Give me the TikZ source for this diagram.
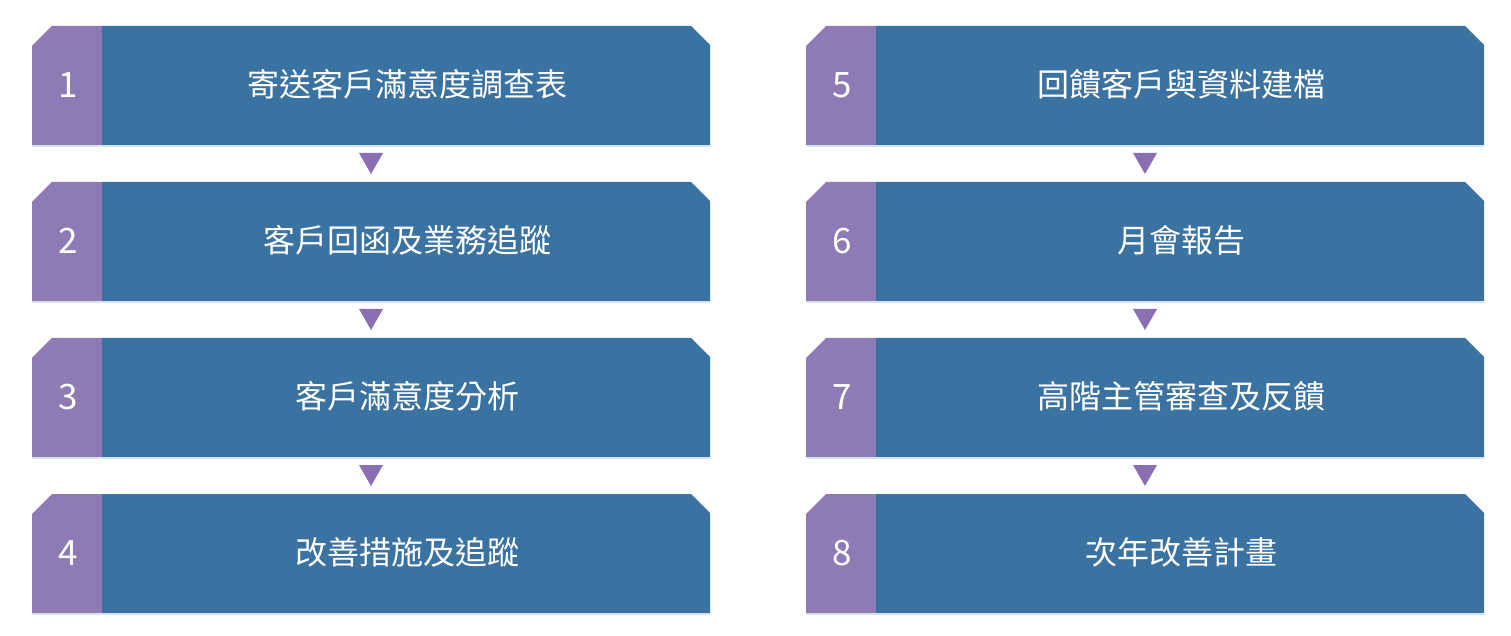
\documentclass[tikz,border=0pt]{standalone}
\usepackage{fontspec}
\newfontfamily\cjk{Noto Sans CJK TC}
\definecolor{pur}{HTML}{8E7AB5}
\definecolor{blu}{HTML}{3A72A2}
\definecolor{tri}{HTML}{8B6FB3}
\begin{document}
\begin{tikzpicture}[x=0.5pt,y=-0.5pt,
  lbl/.style={text=white,font=\cjk\fontsize{16}{18}\selectfont,inner sep=0},
  num/.style={text=white,font=\cjk\fontsize{17.5}{20}\selectfont,inner sep=0},
  arr/.style={fill=tri,draw=none}]
\useasboundingbox (0,0) rectangle (1511,636);
\newcommand\stepbox[5]{% x0, y0, number, text, name
  \fill[pur] (#1,#2+20) -- (#1+20,#2) -- (#1+70,#2) -- (#1+70,#2+120) -- (#1,#2+120) -- cycle;
  \fill[blu] (#1+70,#2) -- (#1+659,#2) -- (#1+678,#2+19) -- (#1+678,#2+120) -- (#1+70,#2+120) -- cycle;
  \draw[white!80!blu,line width=0.6pt] (#1,#2+120) -- (#1+678,#2+120);
  \node[num] (n#5) at (#1+36,#2+59) {#3};
  \node[lbl] (t#5) at (#1+375,#2+58) {#4};
}
\newcommand\steparrow[3]{% cx, y, name
  \fill[arr] (#1-12,#2+7) -- (#1+12,#2+7) -- (#1,#2+28) -- cycle;
  \coordinate (a#3) at (#1,#2);
}
\stepbox{32}{26}{1}{寄送客戶滿意度調查表}{1}
\stepbox{32}{182}{2}{客戶回函及業務追蹤}{2}
\stepbox{32}{338}{3}{客戶滿意度分析}{3}
\stepbox{32}{494}{4}{改善措施及追蹤}{4}
\stepbox{806}{26}{5}{回饋客戶與資料建檔}{5}
\stepbox{806}{182}{6}{月會報告}{6}
\stepbox{806}{338}{7}{高階主管審查及反饋}{7}
\stepbox{806}{494}{8}{次年改善計畫}{8}
\steparrow{371}{146}{1}
\steparrow{371}{302}{2}
\steparrow{371}{458}{3}
\steparrow{1145}{146}{5}
\steparrow{1145}{302}{6}
\steparrow{1145}{458}{7}
\end{tikzpicture}
\end{document}
